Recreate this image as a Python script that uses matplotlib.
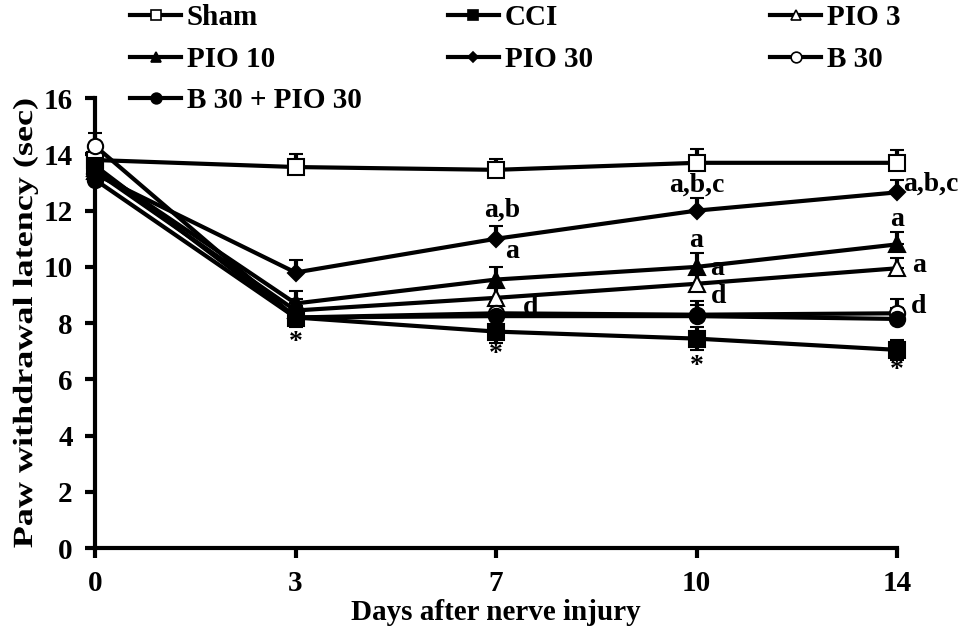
import numpy as np
import matplotlib
matplotlib.use("Agg")
import matplotlib.pyplot as plt
from matplotlib.patheffects import AbstractPathEffect
from matplotlib.transforms import Affine2D

plt.rcParams['font.family'] = ['Liberation Serif', 'DejaVu Serif']
plt.rcParams['font.weight'] = 'bold'

days = ["0", "3", "7", "10", "14"]

sham = [13.8, 13.55, 13.45, 13.7, 13.7]
sham_err = [0.4, 0.45, 0.4, 0.5, 0.45]
cci = [13.6, 8.2, 7.7, 7.45, 7.05]
cci_err = [0.4, 0.35, 0.4, 0.4, 0.35]
pio3 = [13.4, 8.45, 8.9, 9.4, 9.95]
pio3_err = [0.4, 0.4, 0.35, 0.4, 0.35]
pio10 = [13.5, 8.7, 9.55, 10.0, 10.8]
pio10_err = [0.4, 0.45, 0.45, 0.5, 0.45]
pio30 = [13.3, 9.8, 11.0, 12.0, 12.65]
pio30_err = [0.4, 0.45, 0.45, 0.45, 0.45]
b30 = [14.3, 8.2, 8.35, 8.3, 8.35]
b30_err = [0.45, 0.4, 0.4, 0.5, 0.5]
b30pio30 = [13.1, 8.2, 8.25, 8.25, 8.15]
b30pio30_err = [0.4, 0.35, 0.4, 0.4, 0.4]


class Stretch(AbstractPathEffect):
    # stretch text along its own direction, about its centre
    def __init__(self, sx):
        super().__init__()
        self.sx = sx

    def draw_path(self, renderer, gc, tpath, affine, rgbFace=None):
        ext = tpath.get_extents()
        cx = (ext.x0 + ext.x1) / 2
        t = Affine2D().translate(-cx, 0).scale(self.sx, 1).translate(cx, 0) + affine
        renderer.draw_path(gc, tpath, t, rgbFace)


x = np.arange(len(days))

fig = plt.figure(figsize=(9.63, 6.33), dpi=100)
ax = fig.add_axes([0.0987, 0.134, 0.8328, 0.711])

series = [
    ("Sham", sham, sham_err, "s", "white", False),
    ("CCI", cci, cci_err, "s", "black", True),
    ("PIO 3", pio3, pio3_err, "^", "white", False),
    ("PIO 10", pio10, pio10_err, "^", "black", False),
    ("PIO 30", pio30, pio30_err, "D", "black", False),
    ("B 30", b30, b30_err, "o", "white", False),
    ("B 30 + PIO 30", b30pio30, b30pio30_err, "o", "black", False),
]

handles = {}
for name, vals, err, mk, fc, both in series:
    ms = 8 if mk == "D" else 11
    if both:
        yerr = [err, err]
    else:
        yerr = [np.zeros(len(err)), err]
    eb = ax.errorbar(x, vals, yerr=yerr, color="black", lw=3, marker=mk,
                     ms=ms, mfc=fc, mec="black", mew=1.5, capsize=5,
                     capthick=4, elinewidth=3, clip_on=False, zorder=3)
    for c in eb[1]:
        c.set_clip_on(False)
    for c in eb[2]:
        c.set_clip_on(False)
    h, = ax.plot([], [], color="black", lw=3, marker=mk, ms=ms * 0.7,
                 mfc=fc, mec="black", mew=1.2)
    handles[name] = h

ax.set_xlim(0, 4)
ax.set_ylim(0, 16)
ax.set_xticks(x)
ax.set_xticklabels(days)
ax.set_yticks(np.arange(0, 17, 2))
ax.tick_params(labelsize=21, width=3, length=7, direction="out", pad=9)
for s in ["top", "right"]:
    ax.spines[s].set_visible(False)
for s in ["left", "bottom"]:
    ax.spines[s].set_linewidth(3)

ax.set_xlabel("Days after nerve injury", fontsize=21, fontweight="bold", labelpad=1)
yl = ax.set_ylabel("Paw withdrawal latency (sec)", fontsize=20, fontweight="bold", labelpad=4)
yl.set_path_effects([Stretch(1.3)])

# significance labels
fs = 20
ax.text(1, 7.3, "*", ha="center", va="center", fontsize=fs)
ax.text(2, 6.9, "*", ha="center", va="center", fontsize=fs)
ax.text(3, 6.45, "*", ha="center", va="center", fontsize=fs)
ax.text(4, 6.3, "*", ha="center", va="center", fontsize=fs)
ax.text(2.03, 12.0, "a,b", ha="center", va="center", fontsize=fs)
ax.text(2.08, 10.55, "a", ha="center", va="center", fontsize=fs)
ax.text(2.17, 8.55, "d", ha="center", va="center", fontsize=fs, zorder=1)
ax.text(3.0, 12.9, "a,b,c", ha="center", va="center", fontsize=fs)
ax.text(3.0, 10.95, "a", ha="center", va="center", fontsize=fs)
ax.text(3.1, 9.95, "a", ha="center", va="center", fontsize=fs)
ax.text(3.11, 8.95, "d", ha="center", va="center", fontsize=fs)
ax.text(4.03, 12.95, "a,b,c", ha="left", va="center", fontsize=fs)
ax.text(4.0, 11.7, "a", ha="center", va="center", fontsize=fs)
ax.text(4.11, 10.05, "a", ha="center", va="center", fontsize=fs)
ax.text(4.11, 8.6, "d", ha="center", va="center", fontsize=fs)

cols = [["Sham", "PIO 10", "B 30 + PIO 30"], ["CCI", "PIO 30"], ["PIO 3", "B 30"]]
col_x = [0.132, 0.462, 0.797]
for cx, names in zip(col_x, cols):
    fig.legend([handles[n] for n in names], names, loc="upper left",
               bbox_to_anchor=(cx, 0.998), frameon=False, fontsize=21,
               handlelength=1.75, handletextpad=0.2, labelspacing=0.5,
               borderpad=0.1, borderaxespad=0)

fig.savefig("out.png", dpi=100)
